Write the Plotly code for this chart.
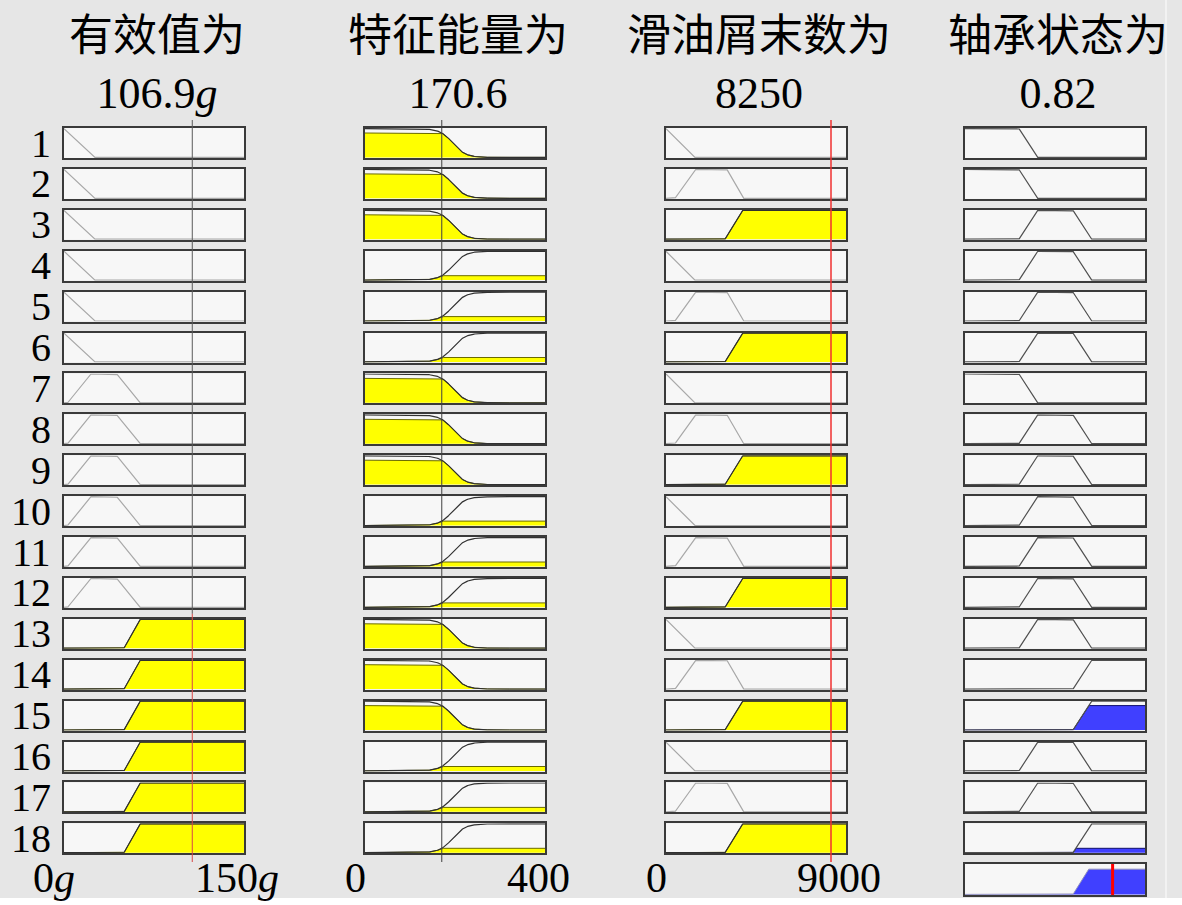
import numpy as np
import plotly.graph_objects as go

W, H = 1182, 905

# ---------------- data ----------------
titles = ["有效值为", "特征能量为", "滑油屑末数为", "轴承状态为"]
value_text = ["106.9<i>g</i>", "170.6", "8250", "0.82"]
inputs = [106.9, 170.6, 8250.0]
output_value = 0.82
ranges = [(0, 150), (0, 400), (0, 9000), (0, 1)]
tick_text = [("0<i>g</i>", "150<i>g</i>"), ("0", "400"), ("0", "9000")]
row_labels = [str(i) for i in range(1, 19)]

# membership functions (type, params)
mf_in1 = {"A": ("trap", [0, 0, 0, 25]),
          "B": ("trap", [3, 22, 44, 63]),
          "C": ("trap", [50, 63, 150, 150])}
mf_in2 = {"L": ("sig", [-0.07, 195]),
          "H": ("sig", [0.07, 195])}
mf_in3 = {"A": ("trap", [0, 0, 0, 1400]),
          "B": ("trap", [450, 1450, 3050, 3850]),
          "C": ("trap", [2950, 3800, 9000, 9000])}
mf_out = {"low": ("trap", [0, 0, 0.3, 0.4]),
          "mid": ("trap", [0.3, 0.4, 0.6, 0.7]),
          "high": ("trap", [0.6, 0.7, 1, 1])}

rule_in1 = ["A"] * 6 + ["B"] * 6 + ["C"] * 6
rule_in2 = ["L", "L", "L", "H", "H", "H"] * 3
rule_in3 = ["A", "B", "C"] * 6
rule_out = ["low", "low", "mid", "mid", "mid", "mid",
            "low", "mid", "mid", "mid", "mid", "mid",
            "mid", "high", "high", "mid", "mid", "high"]

# ---------------- helpers ----------------
def evalmf(mf, x):
    kind, p = mf
    x = np.asarray(x, dtype=float)
    if kind == "sig":
        a, c = p
        return 1.0 / (1.0 + np.exp(-a * (x - c)))
    a, b, c, d = p
    left = (x - a) / (b - a) if b > a else np.where(x >= a, 1.0, 0.0)
    right = (d - x) / (d - c) if d > c else np.where(x <= d, 1.0, 0.0)
    return np.clip(np.minimum(left, right), 0, 1)

mf_sets = [mf_in1, mf_in2, mf_in3]
rule_ins = [rule_in1, rule_in2, rule_in3]

# geometry (pixels)
COL_LEFT = [64, 365, 666, 965]
PANEL_W = 180
ROW_TOP0 = 128
ROW_PITCH = 40.9
PANEL_H = 30
OUT_TOP, OUT_H = 864, 31

def px_x(x):
    return x / W

def px_y(y):
    return 1 - y / H

fig = go.Figure()
layout = {}
shapes = []
annotations = []

BG = "#e6e6e6"
PANEL_BG = "#f7f7f7"
BORDER = "#3a3a3a"

def add_axis(k, c, top, h):
    xs = "xaxis" if k == 1 else f"xaxis{k}"
    ys = "yaxis" if k == 1 else f"yaxis{k}"
    lo, hi = ranges[c]
    layout[xs] = dict(domain=[px_x(COL_LEFT[c]), px_x(COL_LEFT[c] + PANEL_W)],
                      range=[lo, hi], anchor=f"y{'' if k == 1 else k}",
                      showgrid=False, zeroline=False, showticklabels=False,
                      ticks="", showline=True, mirror=True, linecolor=BORDER,
                      linewidth=1.5, fixedrange=True)
    layout[ys] = dict(domain=[px_y(top + h), px_y(top)], range=[-0.02, 1.02],
                      anchor=f"x{'' if k == 1 else k}",
                      showgrid=False, zeroline=False, showticklabels=False,
                      ticks="", showline=True, mirror=True, linecolor=BORDER,
                      linewidth=1.5, fixedrange=True)
    return f"x{'' if k == 1 else k}", f"y{'' if k == 1 else k}"

# input memberships and firing strengths
mu = [{name: float(evalmf(mf, inputs[c])) for name, mf in mf_sets[c].items()}
      for c in range(3)]
w = [min(mu[0][rule_in1[r]], mu[1][rule_in2[r]], mu[2][rule_in3[r]])
     for r in range(18)]

axis_refs = {}
k = 0
for c in range(4):
    lo, hi = ranges[c]
    xg = np.linspace(lo, hi, 721)
    for r in range(18):
        k += 1
        top = ROW_TOP0 + r * ROW_PITCH
        xa, ya = add_axis(k, c, top, PANEL_H)
        axis_refs[(c, r)] = (xa, ya)
        if c < 3:
            mf = mf_sets[c][rule_ins[c][r]]
            deg = mu[c][rule_ins[c][r]]
            fillc, edgec = "#ffff00", "#6b6b00"
        else:
            mf = mf_out[rule_out[r]]
            deg = w[r]
            fillc, edgec = "#4040ff", "#10106a"
        yv = evalmf(mf, xg)
        if deg > 1e-3:
            fig.add_trace(go.Scatter(x=xg, y=np.minimum(yv, deg), xaxis=xa, yaxis=ya,
                                     mode="lines", fill="tozeroy", fillcolor=fillc,
                                     line=dict(color=edgec, width=1),
                                     hoverinfo="skip", showlegend=False))
        if c == 3:
            lc = "#505050"
        else:
            lc = "#303030" if deg > 1e-3 else "#a8a8a8"
        fig.add_trace(go.Scatter(x=xg, y=yv, xaxis=xa, yaxis=ya, mode="lines",
                                 line=dict(color=lc, width=1.2),
                                 hoverinfo="skip", showlegend=False))

# aggregated output panel
k += 1
xa_o, ya_o = add_axis(k, 3, OUT_TOP, OUT_H)
xg = np.linspace(0, 1, 721)
agg = np.zeros_like(xg)
for r in range(18):
    agg = np.maximum(agg, np.minimum(evalmf(mf_out[rule_out[r]], xg), w[r]))
fig.add_trace(go.Scatter(x=xg, y=agg, xaxis=xa_o, yaxis=ya_o, mode="lines",
                         fill="tozeroy", fillcolor="#4040ff",
                         line=dict(color="#9090c0", width=1),
                         hoverinfo="skip", showlegend=False))
shapes.append(dict(type="line", xref=xa_o, yref=ya_o, x0=output_value, x1=output_value,
                   y0=-0.02, y1=1.02, line=dict(color="#ff0000", width=3)))

# input value lines
ytop_line, ybot_line = 120, 862
split_y = ROW_TOP0 + 12 * ROW_PITCH - 5
xa1 = axis_refs[(0, 0)][0]
shapes.append(dict(type="line", xref=xa1, yref="paper", x0=inputs[0], x1=inputs[0],
                   y0=px_y(ytop_line), y1=px_y(split_y), line=dict(color="#5a5a5a", width=1)))
shapes.append(dict(type="line", xref=xa1, yref="paper", x0=inputs[0], x1=inputs[0],
                   y0=px_y(split_y), y1=px_y(ybot_line), line=dict(color="#d84848", width=1)))
xa2 = axis_refs[(1, 0)][0]
shapes.append(dict(type="line", xref=xa2, yref="paper", x0=inputs[1], x1=inputs[1],
                   y0=px_y(ytop_line), y1=px_y(ybot_line), line=dict(color="#404040", width=1)))
xa3 = axis_refs[(2, 0)][0]
shapes.append(dict(type="line", xref=xa3, yref="paper", x0=inputs[2], x1=inputs[2],
                   y0=px_y(ytop_line), y1=px_y(ybot_line), line=dict(color="#f03030", width=1.5)))

# bottom white strip and right edge
shapes.append(dict(type="rect", xref="paper", yref="paper", x0=0, x1=1,
                   y0=0, y1=px_y(898), fillcolor="#ffffff", line=dict(width=0), layer="below"))
shapes.append(dict(type="line", xref="paper", yref="paper", x0=px_x(1166), x1=px_x(1166),
                   y0=px_y(898), y1=1, line=dict(color="#f2f2f2", width=2), layer="below"))

SERIF = "Liberation Serif, Noto Sans CJK SC, serif"

# titles (name line + value line in one text block)
for c in range(4):
    cx = px_x(COL_LEFT[c] + PANEL_W / 2 + 3)
    annotations.append(dict(text=f"<span style='font-size:44px'>{titles[c]}</span><br>{value_text[c]}",
                            x=cx, y=px_y(65), xref="paper", yref="paper",
                            xanchor="center", yanchor="middle", showarrow=False,
                            font=dict(family=SERIF, size=44, color="#000000")))

# row labels
for r in range(18):
    cy = ROW_TOP0 + r * ROW_PITCH + PANEL_H / 2
    annotations.append(dict(text=row_labels[r], x=px_x(53), y=px_y(cy), xref="paper",
                            yref="paper", xanchor="right", yanchor="middle", showarrow=False,
                            font=dict(family=SERIF, size=40, color="#000000")))

# range tick labels
for c in range(3):
    xa = axis_refs[(c, 17)][0]
    lo, hi = ranges[c]
    for val, txt, sh in [(lo, tick_text[c][0], -10), (hi, tick_text[c][1], -7)]:
        annotations.append(dict(text=txt, x=val, y=px_y(878), xref=xa, yref="paper",
                                xanchor="center", yanchor="middle", xshift=sh,
                                showarrow=False,
                                font=dict(family=SERIF, size=42, color="#000000")))

fig.update_layout(**layout)
fig.update_layout(width=W, height=H, margin=dict(l=0, r=0, t=0, b=0),
                  paper_bgcolor=BG, plot_bgcolor=PANEL_BG,
                  shapes=shapes, annotations=annotations, showlegend=False)

fig.write_html("out.html", config={"displayModeBar": False},
               post_script="document.body.style.margin='0';"
                           "document.body.style.overflow='hidden';")
